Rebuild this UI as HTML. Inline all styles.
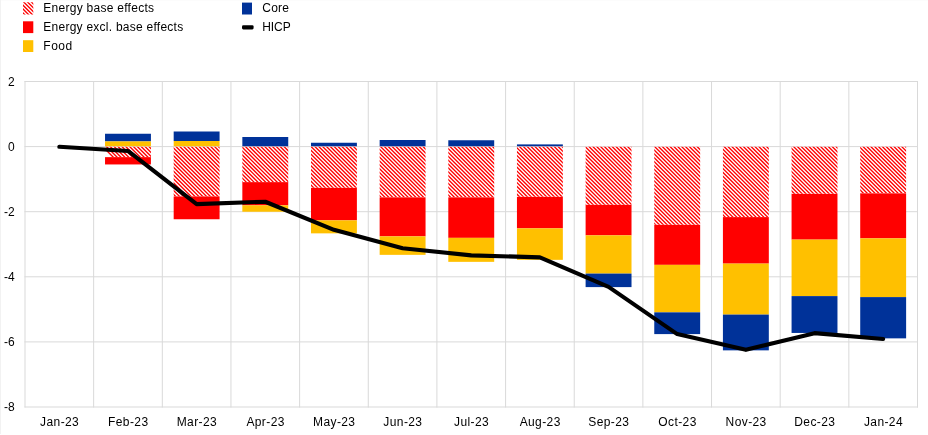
<!DOCTYPE html>
<html lang="en"><head><meta charset="utf-8"><title>HICP decomposition</title>
<style>html,body{margin:0;padding:0;background:#fff}svg{display:block}text{font-family:"Liberation Sans",sans-serif;font-size:12px;fill:#000}</style></head><body>
<svg width="928" height="435" viewBox="0 0 928 435">
<defs><clipPath id="hc"><rect x="105.03" y="146.85" width="45.9" height="10.30"/><rect x="173.68" y="146.85" width="45.9" height="49.60"/><rect x="242.34" y="146.85" width="45.9" height="35.30"/><rect x="310.99" y="146.85" width="45.9" height="41.00"/><rect x="379.65" y="146.85" width="45.9" height="50.50"/><rect x="448.30" y="146.85" width="45.9" height="50.50"/><rect x="516.95" y="146.85" width="45.9" height="50.00"/><rect x="585.61" y="146.85" width="45.9" height="58.00"/><rect x="654.26" y="146.85" width="45.9" height="78.00"/><rect x="722.92" y="146.85" width="45.9" height="70.25"/><rect x="791.57" y="146.85" width="45.9" height="47.00"/><rect x="860.22" y="146.85" width="45.9" height="46.50"/><rect x="23" y="2.3" width="10.3" height="12.2"/></clipPath></defs>
<rect width="928" height="435" fill="#fff"/>
<rect x="0" y="0" width="928" height="1" fill="#FCFCFC"/><rect x="0" y="0" width="1" height="434" fill="#F2F2F2"/>
<g stroke="#D9D9D9" stroke-width="1" fill="none"><line x1="24.5" x2="918.0" y1="81.50" y2="81.50"/><line x1="24.5" x2="918.0" y1="146.60" y2="146.60"/><line x1="24.5" x2="918.0" y1="211.70" y2="211.70"/><line x1="24.5" x2="918.0" y1="276.80" y2="276.80"/><line x1="24.5" x2="918.0" y1="341.90" y2="341.90"/><line x1="24.5" x2="918.0" y1="407.00" y2="407.00"/><line x1="25.00" x2="25.00" y1="81.0" y2="407.5"/><line x1="93.65" x2="93.65" y1="81.0" y2="407.5"/><line x1="162.31" x2="162.31" y1="81.0" y2="407.5"/><line x1="230.96" x2="230.96" y1="81.0" y2="407.5"/><line x1="299.62" x2="299.62" y1="81.0" y2="407.5"/><line x1="368.27" x2="368.27" y1="81.0" y2="407.5"/><line x1="436.92" x2="436.92" y1="81.0" y2="407.5"/><line x1="505.58" x2="505.58" y1="81.0" y2="407.5"/><line x1="574.23" x2="574.23" y1="81.0" y2="407.5"/><line x1="642.88" x2="642.88" y1="81.0" y2="407.5"/><line x1="711.54" x2="711.54" y1="81.0" y2="407.5"/><line x1="780.19" x2="780.19" y1="81.0" y2="407.5"/><line x1="848.85" x2="848.85" y1="81.0" y2="407.5"/><line x1="917.50" x2="917.50" y1="81.0" y2="407.5"/></g>
<rect x="105.03" y="133.75" width="45.9" height="7.65" fill="#003299"/>
<rect x="105.03" y="141.40" width="45.9" height="4.90" fill="#FFC000"/>
<rect x="105.03" y="146.85" width="45.9" height="10.30" fill="#fff"/>
<rect x="105.03" y="157.15" width="45.9" height="7.30" fill="#FF0000"/>
<rect x="173.68" y="131.50" width="45.9" height="9.50" fill="#003299"/>
<rect x="173.68" y="141.00" width="45.9" height="5.30" fill="#FFC000"/>
<rect x="173.68" y="146.85" width="45.9" height="49.60" fill="#fff"/>
<rect x="173.68" y="196.45" width="45.9" height="22.80" fill="#FF0000"/>
<rect x="242.34" y="137.00" width="45.9" height="9.30" fill="#003299"/>
<rect x="242.34" y="146.85" width="45.9" height="35.30" fill="#fff"/>
<rect x="242.34" y="182.15" width="45.9" height="23.20" fill="#FF0000"/>
<rect x="242.34" y="205.35" width="45.9" height="6.40" fill="#FFC000"/>
<rect x="310.99" y="142.75" width="45.9" height="3.55" fill="#003299"/>
<rect x="310.99" y="146.85" width="45.9" height="41.00" fill="#fff"/>
<rect x="310.99" y="187.85" width="45.9" height="32.50" fill="#FF0000"/>
<rect x="310.99" y="220.35" width="45.9" height="13.00" fill="#FFC000"/>
<rect x="379.65" y="140.00" width="45.9" height="6.30" fill="#003299"/>
<rect x="379.65" y="146.85" width="45.9" height="50.50" fill="#fff"/>
<rect x="379.65" y="197.35" width="45.9" height="39.00" fill="#FF0000"/>
<rect x="379.65" y="236.35" width="45.9" height="18.50" fill="#FFC000"/>
<rect x="448.30" y="140.25" width="45.9" height="6.05" fill="#003299"/>
<rect x="448.30" y="146.85" width="45.9" height="50.50" fill="#fff"/>
<rect x="448.30" y="197.35" width="45.9" height="40.50" fill="#FF0000"/>
<rect x="448.30" y="237.85" width="45.9" height="24.00" fill="#FFC000"/>
<rect x="516.95" y="144.40" width="45.9" height="1.90" fill="#003299"/>
<rect x="516.95" y="146.85" width="45.9" height="50.00" fill="#fff"/>
<rect x="516.95" y="196.85" width="45.9" height="31.50" fill="#FF0000"/>
<rect x="516.95" y="228.35" width="45.9" height="31.50" fill="#FFC000"/>
<rect x="585.61" y="146.85" width="45.9" height="58.00" fill="#fff"/>
<rect x="585.61" y="204.85" width="45.9" height="30.50" fill="#FF0000"/>
<rect x="585.61" y="235.35" width="45.9" height="38.25" fill="#FFC000"/>
<rect x="585.61" y="273.60" width="45.9" height="13.50" fill="#003299"/>
<rect x="654.26" y="146.85" width="45.9" height="78.00" fill="#fff"/>
<rect x="654.26" y="224.85" width="45.9" height="40.00" fill="#FF0000"/>
<rect x="654.26" y="264.85" width="45.9" height="47.50" fill="#FFC000"/>
<rect x="654.26" y="312.35" width="45.9" height="21.75" fill="#003299"/>
<rect x="722.92" y="146.85" width="45.9" height="70.25" fill="#fff"/>
<rect x="722.92" y="217.10" width="45.9" height="46.50" fill="#FF0000"/>
<rect x="722.92" y="263.60" width="45.9" height="51.00" fill="#FFC000"/>
<rect x="722.92" y="314.60" width="45.9" height="35.75" fill="#003299"/>
<rect x="791.57" y="146.85" width="45.9" height="47.00" fill="#fff"/>
<rect x="791.57" y="193.85" width="45.9" height="45.75" fill="#FF0000"/>
<rect x="791.57" y="239.60" width="45.9" height="56.50" fill="#FFC000"/>
<rect x="791.57" y="296.10" width="45.9" height="36.85" fill="#003299"/>
<rect x="860.22" y="146.85" width="45.9" height="46.50" fill="#fff"/>
<rect x="860.22" y="193.35" width="45.9" height="45.00" fill="#FF0000"/>
<rect x="860.22" y="238.35" width="45.9" height="58.75" fill="#FFC000"/>
<rect x="860.22" y="297.10" width="45.9" height="41.25" fill="#003299"/>
<path clip-path="url(#hc)" d="M96.06,140.0L186.06,230.0M99.92,140.0L189.92,230.0M103.78,140.0L193.78,230.0M107.64,140.0L197.64,230.0M111.50,140.0L201.50,230.0M115.36,140.0L205.36,230.0M119.22,140.0L209.22,230.0M123.08,140.0L213.08,230.0M126.94,140.0L216.94,230.0M130.80,140.0L220.80,230.0M134.66,140.0L224.66,230.0M138.52,140.0L228.52,230.0M142.38,140.0L232.38,230.0M146.24,140.0L236.24,230.0M150.10,140.0L240.10,230.0M153.96,140.0L243.96,230.0M157.82,140.0L247.82,230.0M161.68,140.0L251.68,230.0M165.54,140.0L255.54,230.0M169.40,140.0L259.40,230.0M173.26,140.0L263.26,230.0M177.12,140.0L267.12,230.0M180.98,140.0L270.98,230.0M184.84,140.0L274.84,230.0M188.70,140.0L278.70,230.0M192.56,140.0L282.56,230.0M196.42,140.0L286.42,230.0M200.28,140.0L290.28,230.0M204.14,140.0L294.14,230.0M208.00,140.0L298.00,230.0M211.86,140.0L301.86,230.0M215.72,140.0L305.72,230.0M219.58,140.0L309.58,230.0M223.44,140.0L313.44,230.0M227.30,140.0L317.30,230.0M231.16,140.0L321.16,230.0M235.02,140.0L325.02,230.0M238.88,140.0L328.88,230.0M242.74,140.0L332.74,230.0M246.60,140.0L336.60,230.0M250.46,140.0L340.46,230.0M254.32,140.0L344.32,230.0M258.18,140.0L348.18,230.0M262.04,140.0L352.04,230.0M265.90,140.0L355.90,230.0M269.76,140.0L359.76,230.0M273.62,140.0L363.62,230.0M277.48,140.0L367.48,230.0M281.34,140.0L371.34,230.0M285.20,140.0L375.20,230.0M289.06,140.0L379.06,230.0M292.92,140.0L382.92,230.0M296.78,140.0L386.78,230.0M300.64,140.0L390.64,230.0M304.50,140.0L394.50,230.0M308.36,140.0L398.36,230.0M312.22,140.0L402.22,230.0M316.08,140.0L406.08,230.0M319.94,140.0L409.94,230.0M323.80,140.0L413.80,230.0M327.66,140.0L417.66,230.0M331.52,140.0L421.52,230.0M335.38,140.0L425.38,230.0M339.24,140.0L429.24,230.0M343.10,140.0L433.10,230.0M346.96,140.0L436.96,230.0M350.82,140.0L440.82,230.0M354.68,140.0L444.68,230.0M358.54,140.0L448.54,230.0M362.40,140.0L452.40,230.0M366.26,140.0L456.26,230.0M370.12,140.0L460.12,230.0M373.98,140.0L463.98,230.0M377.84,140.0L467.84,230.0M381.70,140.0L471.70,230.0M385.56,140.0L475.56,230.0M389.42,140.0L479.42,230.0M393.28,140.0L483.28,230.0M397.14,140.0L487.14,230.0M401.00,140.0L491.00,230.0M404.86,140.0L494.86,230.0M408.72,140.0L498.72,230.0M412.58,140.0L502.58,230.0M416.44,140.0L506.44,230.0M420.30,140.0L510.30,230.0M424.16,140.0L514.16,230.0M428.02,140.0L518.02,230.0M431.88,140.0L521.88,230.0M435.74,140.0L525.74,230.0M439.60,140.0L529.60,230.0M443.46,140.0L533.46,230.0M447.32,140.0L537.32,230.0M451.18,140.0L541.18,230.0M455.04,140.0L545.04,230.0M458.90,140.0L548.90,230.0M462.76,140.0L552.76,230.0M466.62,140.0L556.62,230.0M470.48,140.0L560.48,230.0M474.34,140.0L564.34,230.0M478.20,140.0L568.20,230.0M482.06,140.0L572.06,230.0M485.92,140.0L575.92,230.0M489.78,140.0L579.78,230.0M493.64,140.0L583.64,230.0M497.50,140.0L587.50,230.0M501.36,140.0L591.36,230.0M505.22,140.0L595.22,230.0M509.08,140.0L599.08,230.0M512.94,140.0L602.94,230.0M516.80,140.0L606.80,230.0M520.66,140.0L610.66,230.0M524.52,140.0L614.52,230.0M528.38,140.0L618.38,230.0M532.24,140.0L622.24,230.0M536.10,140.0L626.10,230.0M539.96,140.0L629.96,230.0M543.82,140.0L633.82,230.0M547.68,140.0L637.68,230.0M551.54,140.0L641.54,230.0M555.40,140.0L645.40,230.0M559.26,140.0L649.26,230.0M563.12,140.0L653.12,230.0M566.98,140.0L656.98,230.0M570.84,140.0L660.84,230.0M574.70,140.0L664.70,230.0M578.56,140.0L668.56,230.0M582.42,140.0L672.42,230.0M586.28,140.0L676.28,230.0M590.14,140.0L680.14,230.0M594.00,140.0L684.00,230.0M597.86,140.0L687.86,230.0M601.72,140.0L691.72,230.0M605.58,140.0L695.58,230.0M609.44,140.0L699.44,230.0M613.30,140.0L703.30,230.0M617.16,140.0L707.16,230.0M621.02,140.0L711.02,230.0M624.88,140.0L714.88,230.0M628.74,140.0L718.74,230.0M632.60,140.0L722.60,230.0M636.46,140.0L726.46,230.0M640.32,140.0L730.32,230.0M644.18,140.0L734.18,230.0M648.04,140.0L738.04,230.0M651.90,140.0L741.90,230.0M655.76,140.0L745.76,230.0M659.62,140.0L749.62,230.0M663.48,140.0L753.48,230.0M667.34,140.0L757.34,230.0M671.20,140.0L761.20,230.0M675.06,140.0L765.06,230.0M678.92,140.0L768.92,230.0M682.78,140.0L772.78,230.0M686.64,140.0L776.64,230.0M690.50,140.0L780.50,230.0M694.36,140.0L784.36,230.0M698.22,140.0L788.22,230.0M702.08,140.0L792.08,230.0M705.94,140.0L795.94,230.0M709.80,140.0L799.80,230.0M713.66,140.0L803.66,230.0M717.52,140.0L807.52,230.0M721.38,140.0L811.38,230.0M725.24,140.0L815.24,230.0M729.10,140.0L819.10,230.0M732.96,140.0L822.96,230.0M736.82,140.0L826.82,230.0M740.68,140.0L830.68,230.0M744.54,140.0L834.54,230.0M748.40,140.0L838.40,230.0M752.26,140.0L842.26,230.0M756.12,140.0L846.12,230.0M759.98,140.0L849.98,230.0M763.84,140.0L853.84,230.0M767.70,140.0L857.70,230.0M771.56,140.0L861.56,230.0M775.42,140.0L865.42,230.0M779.28,140.0L869.28,230.0M783.14,140.0L873.14,230.0M787.00,140.0L877.00,230.0M790.86,140.0L880.86,230.0M794.72,140.0L884.72,230.0M798.58,140.0L888.58,230.0M802.44,140.0L892.44,230.0M806.30,140.0L896.30,230.0M810.16,140.0L900.16,230.0M814.02,140.0L904.02,230.0M817.88,140.0L907.88,230.0M821.74,140.0L911.74,230.0M825.60,140.0L915.60,230.0M829.46,140.0L919.46,230.0M833.32,140.0L923.32,230.0M837.18,140.0L927.18,230.0M841.04,140.0L931.04,230.0M844.90,140.0L934.90,230.0M848.76,140.0L938.76,230.0M852.62,140.0L942.62,230.0M856.48,140.0L946.48,230.0M860.34,140.0L950.34,230.0M864.20,140.0L954.20,230.0M868.06,140.0L958.06,230.0M871.92,140.0L961.92,230.0M875.78,140.0L965.78,230.0M879.64,140.0L969.64,230.0M883.50,140.0L973.50,230.0M887.36,140.0L977.36,230.0M891.22,140.0L981.22,230.0M895.08,140.0L985.08,230.0M898.94,140.0L988.94,230.0M902.80,140.0L992.80,230.0M906.66,140.0L996.66,230.0M910.52,140.0L1000.52,230.0M6.24,0L26.24,20M10.10,0L30.10,20M13.96,0L33.96,20M17.82,0L37.82,20M21.68,0L41.68,20M25.54,0L45.54,20M29.40,0L49.40,20M33.26,0L53.26,20M37.12,0L57.12,20" stroke="#FF0000" stroke-width="1.35" fill="none"/>
<polyline points="59.33,146.8 127.98,150.95 196.63,204.1 265.29,201.75 333.94,229.85 402.60,248.25 471.25,255.35 539.90,257.35 608.56,286.85 677.21,334.1 745.87,349.85 814.52,333.15000000000003 883.17,338.95000000000005" fill="none" stroke="#000" stroke-width="4.1" stroke-linecap="round" stroke-linejoin="round"/>
<text x="14.6" y="85.80" text-anchor="end">2</text>
<text x="14.6" y="150.90" text-anchor="end">0</text>
<text x="14.6" y="216.00" text-anchor="end">-2</text>
<text x="14.6" y="281.10" text-anchor="end">-4</text>
<text x="14.6" y="346.20" text-anchor="end">-6</text>
<text x="14.6" y="411.30" text-anchor="end">-8</text>
<text x="59.63" y="425.8" text-anchor="middle" letter-spacing="0.4">Jan-23</text>
<text x="128.28" y="425.8" text-anchor="middle" letter-spacing="0.4">Feb-23</text>
<text x="196.93" y="425.8" text-anchor="middle" letter-spacing="0.4">Mar-23</text>
<text x="265.59" y="425.8" text-anchor="middle" letter-spacing="0.4">Apr-23</text>
<text x="334.24" y="425.8" text-anchor="middle" letter-spacing="0.4">May-23</text>
<text x="402.90" y="425.8" text-anchor="middle" letter-spacing="0.4">Jun-23</text>
<text x="471.55" y="425.8" text-anchor="middle" letter-spacing="0.4">Jul-23</text>
<text x="540.20" y="425.8" text-anchor="middle" letter-spacing="0.4">Aug-23</text>
<text x="608.86" y="425.8" text-anchor="middle" letter-spacing="0.4">Sep-23</text>
<text x="677.51" y="425.8" text-anchor="middle" letter-spacing="0.4">Oct-23</text>
<text x="746.17" y="425.8" text-anchor="middle" letter-spacing="0.4">Nov-23</text>
<text x="814.82" y="425.8" text-anchor="middle" letter-spacing="0.4">Dec-23</text>
<text x="883.47" y="425.8" text-anchor="middle" letter-spacing="0.4">Jan-24</text>
<rect x="23" y="21.3" width="10.3" height="11.8" fill="#FF0000"/>
<rect x="23" y="40.2" width="10.3" height="11.8" fill="#FFC000"/>
<rect x="242" y="2.6" width="10" height="11.9" fill="#003299"/>
<rect x="242" y="25.2" width="11.6" height="4.2" rx="1.3" fill="#000"/>
<text x="43.3" y="12" letter-spacing="0.27">Energy base effects</text>
<text x="43.3" y="30.8" letter-spacing="0.25">Energy excl. base effects</text>
<text x="43.3" y="49.7" letter-spacing="0.5">Food</text>
<text x="262.3" y="12" letter-spacing="0.2">Core</text>
<text x="262.3" y="30.8" letter-spacing="-0.1">HICP</text>
</svg></body></html>
